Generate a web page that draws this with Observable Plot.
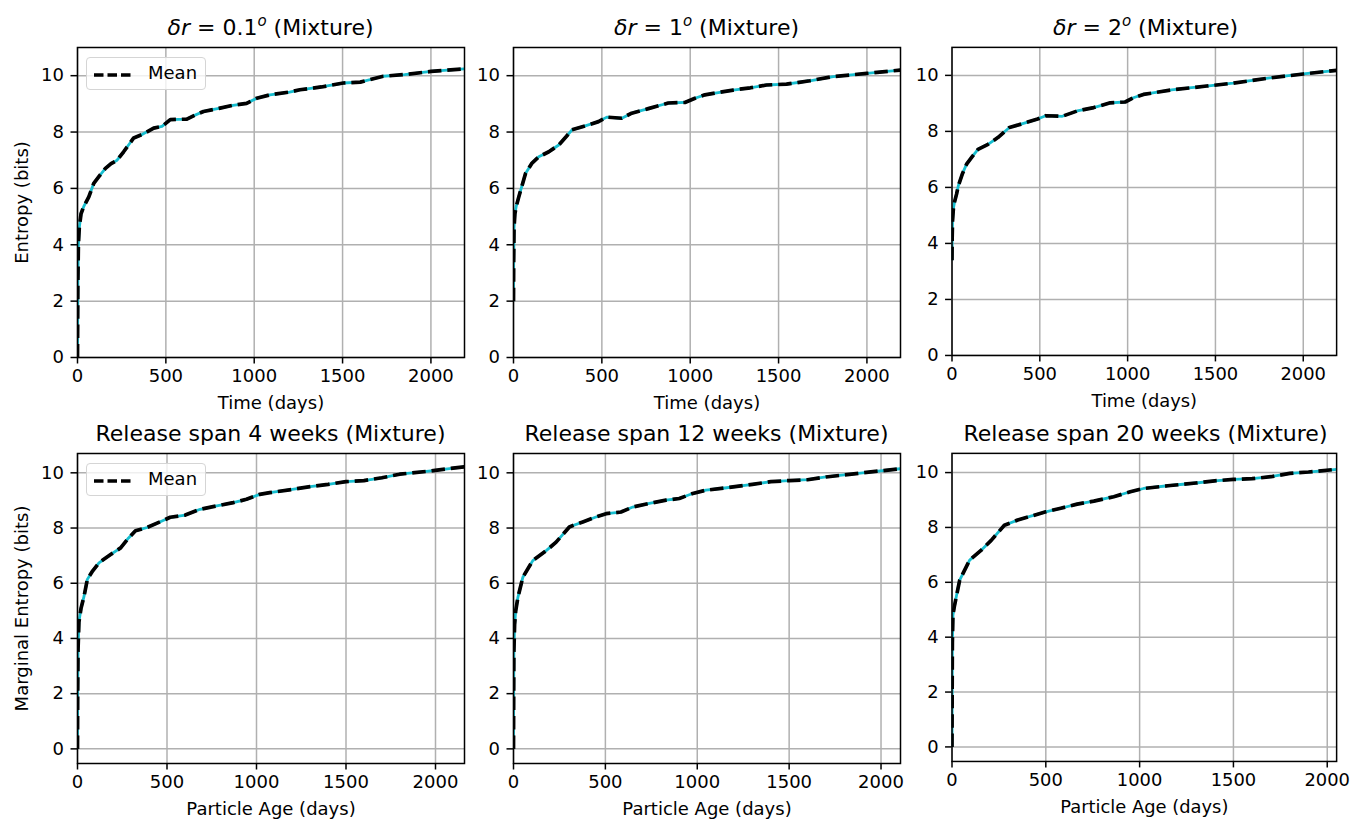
<!DOCTYPE html>
<html>
<head>
<meta charset="utf-8">
<script src="https://cdn.jsdelivr.net/npm/d3@7"></script>
<script src="https://cdn.jsdelivr.net/npm/@observablehq/plot@0.6"></script>
<style>
  html, body { margin: 0; padding: 0; background: #fff; }
  #fig { position: relative; width: 1356px; height: 819px; font-family: "DejaVu Sans", sans-serif; color: #000; overflow: hidden; }
  .panel { position: absolute; }
  .title { position: absolute; font-size: 22px; line-height: 26px; white-space: nowrap; transform: translate(-50%, -50%); }
  .title sup { font-size: 15px; vertical-align: 9px; line-height: 0; }
  .legend { position: absolute; box-sizing: border-box; width: 120px; height: 33px; border: 1px solid #d5d5d5; border-radius: 4px; background: rgba(255,255,255,0.8); font-size: 18px; }
  .legend svg { position: absolute; left: 6px; top: 14px; }
  .legend span { position: absolute; left: 61px; top: 4px; line-height: 22px; }
</style>
</head>
<body>
<div id="fig"></div>
<script>
// ---- data ----
const titlesTop = ["0.1", "1", "2"];
const titlesBottom = ["Release span 4 weeks (Mixture)", "Release span 12 weeks (Mixture)", "Release span 20 weeks (Mixture)"];
const xTicks = [0, 500, 1000, 1500, 2000];
const yTicks = [0, 2, 4, 6, 8, 10];
const xMaxTop = [2190, 2190, 2190];
const xMaxBottom = [2162, 2106, 2050];

const daysA = [0, 2, 5, 10, 20, 35, 64, 92, 125, 158, 190, 224, 261, 290, 318, 365, 431, 478, 525, 619, 665, 713, 807, 880, 957, 1014, 1089, 1200, 1258, 1380, 1504, 1600, 1730, 1850, 2000, 2190];
const meanA = [0, 2.6, 4.0, 4.6, 5.1, 5.35, 5.7, 6.18, 6.45, 6.71, 6.88, 7.0, 7.3, 7.55, 7.79, 7.91, 8.14, 8.2, 8.44, 8.46, 8.6, 8.73, 8.85, 8.95, 9.02, 9.2, 9.32, 9.42, 9.5, 9.6, 9.74, 9.77, 9.98, 10.04, 10.15, 10.24];

const daysB = [0, 1, 3, 8, 15, 30, 68, 105, 143, 200, 256, 300, 331, 406, 481, 528, 613, 669, 763, 876, 970, 1027, 1083, 1243, 1340, 1432, 1545, 1677, 1809, 2000, 2190];
const meanB = [2.0, 3.4, 4.6, 5.1, 5.35, 5.7, 6.53, 6.9, 7.12, 7.3, 7.54, 7.85, 8.08, 8.22, 8.37, 8.53, 8.49, 8.67, 8.83, 9.03, 9.05, 9.2, 9.32, 9.49, 9.57, 9.67, 9.7, 9.82, 9.97, 10.08, 10.2];

const daysC = [0, 1, 3, 8, 15, 26, 36, 60, 83, 115, 148, 205, 261, 327, 393, 487, 534, 628, 713, 807, 901, 986, 1033, 1090, 1250, 1350, 1450, 1600, 1800, 2000, 2190];
const meanC = [3.4, 4.2, 4.8, 5.25, 5.5, 5.76, 6.06, 6.5, 6.83, 7.1, 7.36, 7.54, 7.78, 8.14, 8.26, 8.44, 8.56, 8.54, 8.73, 8.85, 9.02, 9.05, 9.2, 9.32, 9.48, 9.55, 9.62, 9.72, 9.9, 10.05, 10.18];

const daysD = [0, 1, 3, 8, 20, 37, 55, 85, 120, 185, 241, 280, 324, 389, 463, 518, 602, 685, 778, 870, 944, 1018, 1074, 1200, 1300, 1400, 1500, 1600, 1700, 1800, 1950, 2162];
const meanD = [0, 2.0, 3.6, 4.6, 5.1, 5.54, 6.14, 6.45, 6.74, 7.04, 7.28, 7.6, 7.9, 8.02, 8.23, 8.39, 8.47, 8.68, 8.8, 8.92, 9.04, 9.22, 9.28, 9.4, 9.5, 9.58, 9.68, 9.72, 9.82, 9.95, 10.05, 10.22];

const daysE = [0, 1, 2, 6, 12, 24, 51, 105, 178, 232, 270, 304, 377, 449, 504, 585, 649, 739, 830, 902, 975, 1047, 1150, 1300, 1400, 1500, 1600, 1700, 1900, 2106];
const meanE = [0, 2.0, 3.5, 4.5, 5.0, 5.49, 6.22, 6.82, 7.18, 7.49, 7.78, 8.04, 8.22, 8.4, 8.52, 8.58, 8.76, 8.89, 9.01, 9.07, 9.25, 9.37, 9.45, 9.58, 9.68, 9.72, 9.75, 9.85, 10.0, 10.15];

const daysF = [0, 1, 2, 5, 12, 23, 41, 94, 156, 209, 279, 350, 420, 500, 580, 667, 756, 862, 950, 1021, 1150, 1300, 1400, 1500, 1600, 1700, 1800, 1900, 2050];
const meanF = [0, 2.2, 3.8, 4.8, 5.1, 5.48, 6.08, 6.81, 7.17, 7.53, 8.08, 8.27, 8.41, 8.57, 8.7, 8.85, 8.96, 9.12, 9.3, 9.42, 9.52, 9.62, 9.7, 9.75, 9.78, 9.85, 9.97, 10.02, 10.12];

// ---- layout ----
const fig = document.getElementById("fig");
const frameW = 387, frameH = 310;
const lefts = [77, 513, 952];
const tops = [47, 453];
const mL = 80, mR = 20, mT = 20, mB = 60;

const panels = [
  {days: daysA, mean: meanA, xmax: xMaxTop[0], ydom: [0, 11], xlabel: "Time (days)", ylabel: "Entropy (bits)", col: 0, row: 0, legend: true},
  {days: daysB, mean: meanB, xmax: xMaxTop[1], ydom: [0, 11], xlabel: "Time (days)", ylabel: null, col: 1, row: 0},
  {days: daysC, mean: meanC, xmax: xMaxTop[2], ydom: [0, 11], xlabel: "Time (days)", ylabel: null, col: 2, row: 0},
  {days: daysD, mean: meanD, xmax: xMaxBottom[0], ydom: [-0.53, 10.7], xlabel: "Particle Age (days)", ylabel: "Marginal Entropy (bits)", col: 0, row: 1, legend: true},
  {days: daysE, mean: meanE, xmax: xMaxBottom[1], ydom: [-0.53, 10.7], xlabel: "Particle Age (days)", ylabel: null, col: 1, row: 1},
  {days: daysF, mean: meanF, xmax: xMaxBottom[2], ydom: [-0.53, 10.7], xlabel: "Particle Age (days)", ylabel: null, col: 2, row: 1}
];

const fmt = d => String(d);

panels.forEach(p => {
  const data = p.days.map((d, i) => ({day: d, value: p.mean[i]}));
  const marks = [
    Plot.gridX(xTicks, {stroke: "#b0b0b0", strokeOpacity: 1, strokeWidth: 1.5}),
    Plot.gridY(yTicks, {stroke: "#b0b0b0", strokeOpacity: 1, strokeWidth: 1.5}),
    Plot.line(data, {x: "day", y: "value", stroke: "#17becf", strokeWidth: 2.8, strokeLinecap: "butt", clip: true}),
    Plot.line(data, {x: "day", y: "value", stroke: "#000", strokeWidth: 3.7, strokeDasharray: "13.5,5.9", strokeLinecap: "butt", clip: true}),
    Plot.frame({stroke: "#000", strokeWidth: 1.5}),
    Plot.axisX(xTicks, {tickSize: 6.5, tickPadding: 5, strokeWidth: 1.5, fontSize: 18, tickFormat: fmt, label: null}),
    Plot.axisY(yTicks, {tickSize: 6.5, tickPadding: 7, strokeWidth: 1.5, fontSize: 18, tickFormat: fmt, label: null}),
    Plot.text([p.xlabel], {text: d => d, frameAnchor: "bottom", dy: 46, lineAnchor: "middle", fontSize: 18, fill: "#000"})
  ];
  if (p.ylabel) {
    marks.push(Plot.text([p.ylabel], {text: d => d, frameAnchor: "left", dx: -55, rotate: -90, lineAnchor: "middle", textAnchor: "middle", fontSize: 18, fill: "#000"}));
  }
  const chart = Plot.plot({
    width: frameW + mL + mR,
    height: frameH + mT + mB,
    marginLeft: mL, marginRight: mR, marginTop: mT, marginBottom: mB,
    x: {domain: [0, p.xmax], label: null},
    y: {domain: p.ydom, label: null},
    style: {fontFamily: "DejaVu Sans, sans-serif", fontSize: "18px", color: "#000", background: "transparent", overflow: "visible"},
    marks
  });
  const wrap = document.createElement("div");
  wrap.className = "panel";
  wrap.style.left = (lefts[p.col] - mL) + "px";
  wrap.style.top = (tops[p.row] - mT) + "px";
  wrap.appendChild(chart);
  fig.appendChild(wrap);

  // title
  const t = document.createElement("div");
  t.className = "title";
  t.style.left = (lefts[p.col] + frameW / 2) + "px";
  t.style.top = (tops[p.row] - 19) + "px";
  if (p.row === 0) {
    t.innerHTML = "<i>δr</i> = " + titlesTop[p.col] + "<sup><i>o</i></sup> (Mixture)";
  } else {
    t.textContent = titlesBottom[p.col];
  }
  fig.appendChild(t);

  if (p.legend) {
    const lg = document.createElement("div");
    lg.className = "legend";
    lg.style.left = (lefts[p.col] + 9) + "px";
    lg.style.top = (tops[p.row] + 10) + "px";
    lg.innerHTML = '<svg width="42" height="6"><line x1="1" x2="40" y1="3" y2="3" stroke="#000" stroke-width="3.7" stroke-dasharray="9.5,4"/></svg><span>Mean</span>';
    fig.appendChild(lg);
  }
});
</script>
</body>
</html>
